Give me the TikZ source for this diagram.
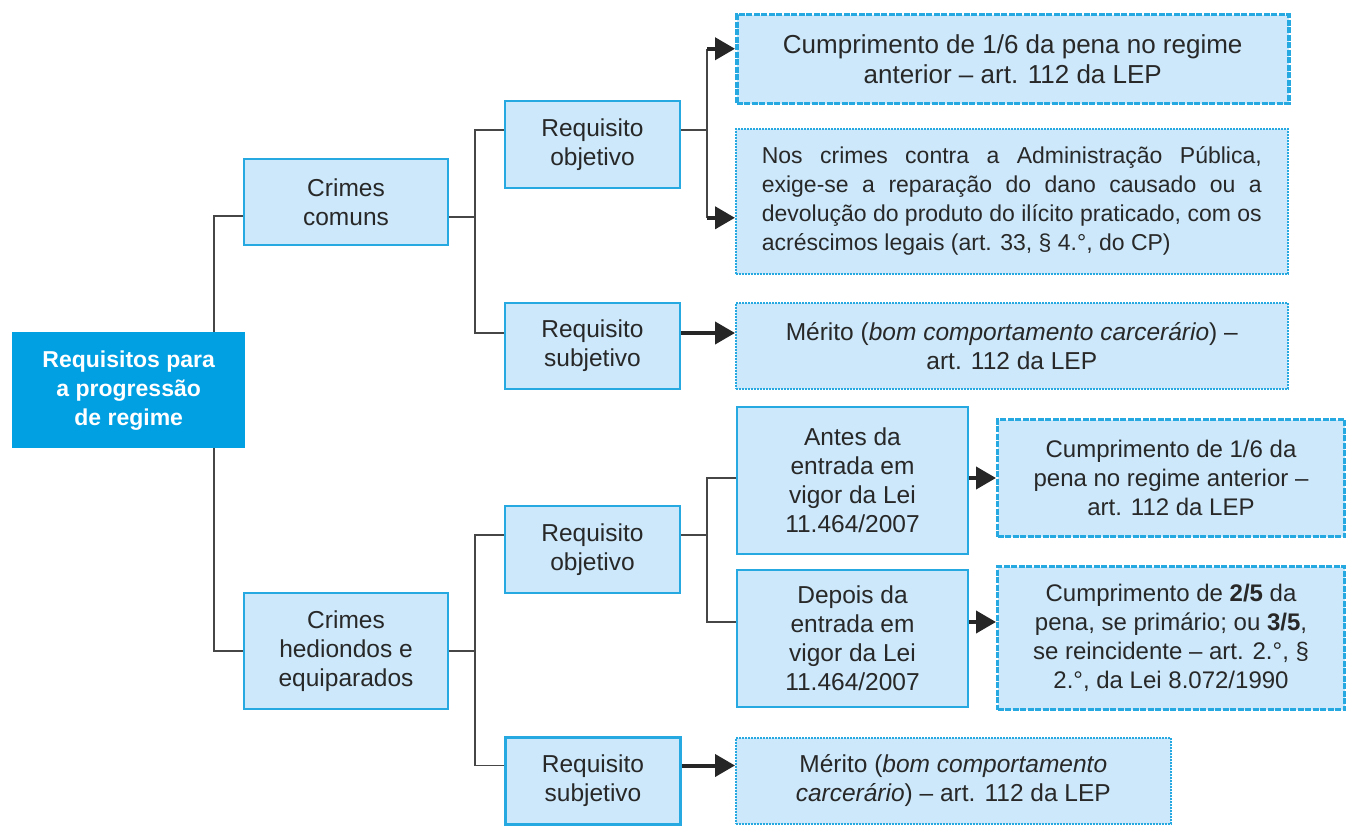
\documentclass[tikz,border=0pt]{standalone}
\usepackage{fontspec}
\setmainfont{Liberation Sans}
\usetikzlibrary{arrows.meta}

\definecolor{boxfill}{RGB}{204,232,250}
\definecolor{boxline}{RGB}{38,168,225}
\definecolor{rootfill}{RGB}{0,160,227}
\definecolor{ink}{RGB}{40,40,40}
\definecolor{wirecol}{RGB}{70,70,70}

% one fully justified line of a given width
\newcommand\jline[1]{\hbox to \linewidth{\spaceskip=.25em plus 1fil\relax #1}}

\begin{document}
\begin{tikzpicture}[x=1pt,y=-1pt,
  every node/.style={font=\fontsize{24.5}{29}\selectfont, text=ink, inner sep=0pt, align=center, anchor=north west},
  plain/.style={draw=boxline, fill=boxfill, line width=2pt},
  note/.style={draw=boxline, fill=boxfill, line width=1.6pt, dash pattern=on 2pt off 1pt},
  heavy/.style={draw=boxline, fill=boxfill, line width=3pt, dash pattern=on 6pt off 1.5pt},
  rootbox/.style={fill=rootfill, text=white, font=\fontsize{23}{29}\selectfont\bfseries},
  wire/.style={draw=wirecol, line width=1.8pt},
  pointer/.style={draw=black!85, line width=4pt, -{Triangle[length=20pt,width=22pt]}},
]
\useasboundingbox (0,0) rectangle (1346,826);

% root
\node[rootbox, minimum width=233pt, minimum height=116pt] (root) at (12,332)
  {Requisitos para\\a progressão\\de regime};

% second level
\node[plain, minimum width=204pt, minimum height=86pt] (cc) at (243,158) {Crimes\\comuns};
\node[plain, minimum width=204pt, minimum height=116pt] (ch) at (243,592) {Crimes\\hediondos e\\equiparados};

% third level
\node[plain, minimum width=175pt, minimum height=87pt] (ro1) at (504,100) {Requisito\\objetivo};
\node[plain, minimum width=175pt, minimum height=86pt] (rs1) at (504,302) {Requisito\\subjetivo};
\node[plain, minimum width=175pt, minimum height=87pt] (ro2) at (504,505) {Requisito\\objetivo};
\node[plain, line width=3pt, minimum width=175pt, minimum height=87pt] (rs2) at (504,736) {Requisito\\subjetivo};

% dated branches
\node[plain, minimum width=231pt, minimum height=147pt] (an) at (736,406)
  {Antes da\\entrada em\\vigor da Lei\\11.464/2007};
\node[plain, minimum width=231pt, minimum height=137pt] (dp) at (736,569)
  {Depois da\\entrada em\\vigor da Lei\\11.464/2007};

% outcome boxes
\node[heavy, line width=3.5pt, minimum width=552pt, minimum height=89pt,
      font=\fontsize{26}{30}\selectfont] (A) at (735,13)
  {Cumprimento de 1/6 da pena no regime\\anterior – art. 112 da LEP};
\node[note, minimum width=552pt, minimum height=145pt] (B) at (735,128)
  {\fontsize{23}{29}\selectfont\begin{minipage}{500pt}
   \jline{Nos crimes contra a Administração Pública,}
   \jline{exige-se a reparação do dano causado ou a}
   \jline{devolução do produto do ilícito praticado, com os}
   \hbox{acréscimos legais (art. 33, § 4.°, do CP)}
   \end{minipage}};
\node[note, minimum width=552pt, minimum height=86pt] (C) at (735,302)
  {Mérito (\textit{bom comportamento carcerário}) –\\art. 112 da LEP};
\node[heavy, minimum width=347pt, minimum height=117pt, font=\fontsize{24}{29}\selectfont] (D) at (996,418)
  {Cumprimento de 1/6 da\\pena no regime anterior –\\art. 112 da LEP};
\node[heavy, minimum width=347pt, minimum height=143pt, font=\fontsize{24}{29}\selectfont] (E) at (996,565)
  {Cumprimento de \textbf{2/5} da\\pena, se primário; ou \textbf{3/5},\\se reincidente – art. 2.°, §\\2.°, da Lei 8.072/1990};
\node[note, minimum width=435pt, minimum height=86pt] (F) at (735,737)
  {Mérito (\textit{bom comportamento}\\\textit{carcerário}) – art. 112 da LEP};

% junction columns
\coordinate (ja) at (214,0);
\coordinate (jb) at (475,0);
\coordinate (jc) at (707,0);

% root to the two kinds of crime
\draw[wire] (root.north -| ja) |- ([yshift=-14pt]cc.west);
\draw[wire] (root.south -| ja) |- (ch.west);

% common crimes
\draw[wire] ([yshift=-15pt]cc.east) -- ([yshift=-15pt]cc.east -| jb);
\draw[wire] ([yshift=14.5pt]ro1.west) -| ([yshift=13pt]rs1.west -| jb) -- ([yshift=13pt]rs1.west);
\draw[wire] ([yshift=14.5pt]ro1.east) -- ([yshift=14.5pt]ro1.east -| jc);
\draw[wire] ([yshift=10.5pt]A.west -| jc) -- ([yshift=-16.5pt]B.west -| jc);
\draw[pointer] ([yshift=10.5pt]A.west -| jc) -- ([yshift=10.5pt]A.west);
\draw[pointer] ([yshift=-16.5pt]B.west -| jc) -- ([yshift=-16.5pt]B.west);
\draw[pointer] ([yshift=13pt]rs1.east) -- ([yshift=13pt]rs1.east -| C.west);

% heinous crimes
\draw[wire] (ch.east) -- (ch.east -| jb);
\draw[wire] ([yshift=14.5pt]ro2.west) -| ([yshift=15.5pt]rs2.west -| jb) -- ([yshift=15.5pt]rs2.west);
\draw[wire] ([yshift=14.5pt]ro2.east) -- ([yshift=14.5pt]ro2.east -| jc);
\draw[wire] ([yshift=2.5pt]an.west) -| ([yshift=16.5pt]dp.west -| jc) -- ([yshift=16.5pt]dp.west);
\draw[pointer] ([yshift=2.5pt]an.east) -- ([yshift=2.5pt]an.east -| D.west);
\draw[pointer] ([yshift=16.5pt]dp.east) -- ([yshift=16.5pt]dp.east -| E.west);
\draw[pointer] ([yshift=15.5pt]rs2.east) -- ([yshift=15.5pt]rs2.east -| F.west);
\end{tikzpicture}
\end{document}
